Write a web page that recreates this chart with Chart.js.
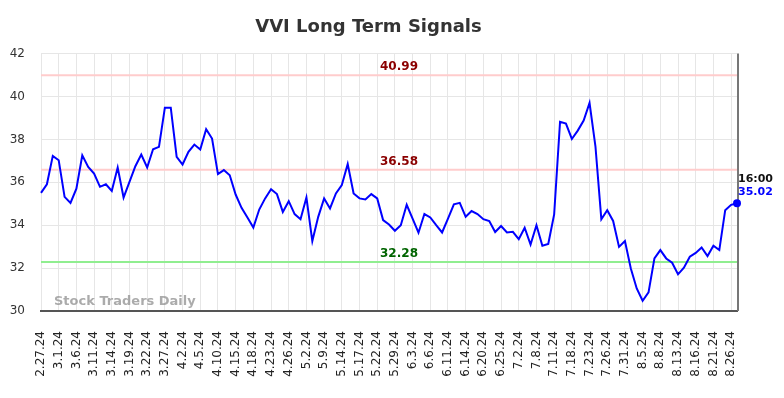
<!DOCTYPE html>
<html>
<head>
<meta charset="utf-8">
<script src="https://cdn.jsdelivr.net/npm/chart.js@4"></script>
<style>
  html, body { margin: 0; padding: 0; background: #fff; }
  #wrap { width: 784px; height: 398px; }
</style>
</head>
<body>
<div id="wrap"><canvas id="vviChart" width="784" height="398"></canvas></div>
<script>
// Handelstage (jeder dritte wird beschriftet)
const dates = [
  '2.27.24','2.28.24','2.29.24','3.1.24','3.4.24','3.5.24','3.6.24','3.7.24','3.8.24',
  '3.11.24','3.12.24','3.13.24','3.14.24','3.15.24','3.18.24','3.19.24','3.20.24','3.21.24',
  '3.22.24','3.25.24','3.26.24','3.27.24','3.28.24','4.1.24','4.2.24','4.3.24','4.4.24',
  '4.5.24','4.8.24','4.9.24','4.10.24','4.11.24','4.12.24','4.15.24','4.16.24','4.17.24',
  '4.18.24','4.19.24','4.22.24','4.23.24','4.24.24','4.25.24','4.26.24','4.29.24','4.30.24',
  '5.2.24','5.3.24','5.6.24','5.9.24','5.10.24','5.13.24','5.14.24','5.15.24','5.16.24',
  '5.17.24','5.20.24','5.21.24','5.22.24','5.23.24','5.24.24','5.29.24','5.30.24','5.31.24',
  '6.3.24','6.4.24','6.5.24','6.6.24','6.7.24','6.10.24','6.11.24','6.12.24','6.13.24',
  '6.14.24','6.17.24','6.18.24','6.20.24','6.21.24','6.24.24','6.25.24','6.26.24','6.28.24',
  '7.2.24','7.3.24','7.5.24','7.8.24','7.9.24','7.10.24','7.11.24','7.12.24','7.16.24',
  '7.18.24','7.19.24','7.22.24','7.23.24','7.24.24','7.25.24','7.26.24','7.29.24','7.30.24',
  '7.31.24','8.1.24','8.2.24','8.5.24','8.6.24','8.7.24','8.8.24','8.9.24','8.12.24',
  '8.13.24','8.14.24','8.15.24','8.16.24','8.19.24','8.20.24','8.21.24','8.22.24','8.23.24',
  '8.26.24','8.27.24'
];

// Schlusskurse
const prices = [
  35.51, 35.91, 37.23, 37.03, 35.32, 35.04, 35.70, 37.26, 36.72,
  36.41, 35.79, 35.91, 35.60, 36.69, 35.29, 36.02, 36.75, 37.29,
  36.69, 37.54, 37.65, 39.48, 39.48, 37.19, 36.83, 37.42, 37.76,
  37.53, 38.48, 38.04, 36.38, 36.57, 36.33, 35.43, 34.81, 34.36,
  33.89, 34.73, 35.25, 35.68, 35.45, 34.62, 35.12, 34.52, 34.28,
  35.29, 33.26, 34.39, 35.25, 34.78, 35.48, 35.87, 36.85, 35.48,
  35.25, 35.20, 35.45, 35.25, 34.24, 34.03, 33.74, 34.00, 34.95,
  34.31, 33.65, 34.52, 34.36, 34.00, 33.66, 34.31, 34.97, 35.04,
  34.39, 34.66, 34.52, 34.28, 34.19, 33.68, 33.96, 33.66, 33.69,
  33.35, 33.88, 33.10, 34.00, 33.04, 33.13, 34.50, 38.82, 38.74,
  38.02, 38.41, 38.88, 39.70, 37.68, 34.28, 34.70, 34.20, 32.99,
  33.26, 31.98, 31.05, 30.48, 30.87, 32.45, 32.84, 32.45, 32.25,
  31.71, 32.02, 32.53, 32.71, 32.96, 32.56, 33.04, 32.84, 34.70,
  34.95, 35.02
];

// Signallinien
const signalValues = [40.99, 36.58, 32.28];
const signalLineColors = ['#ffcccc', '#ffcccc', '#90ee90'];
const signalTextColors = ['#8b0000', '#8b0000', '#006400'];

const yTicks = [30, 32, 34, 36, 38, 40, 42];
const lastTime = '16:00';

// Linien, Beschriftungen, Wasserzeichen
const signalPlugin = {
  id: 'signals',
  beforeDatasetsDraw(chart) {
    const { ctx, chartArea, scales } = chart;
    ctx.save();
    signalValues.forEach((v, i) => {
      const y = scales.y.getPixelForValue(v);
      ctx.strokeStyle = signalLineColors[i];
      ctx.lineWidth = 2;
      ctx.beginPath();
      ctx.moveTo(chartArea.left, y);
      ctx.lineTo(chartArea.right, y);
      ctx.stroke();
    });
    ctx.font = 'bold 13px "DejaVu Sans"';
    ctx.fillStyle = 'rgba(150,150,150,0.8)';
    ctx.textAlign = 'left';
    ctx.textBaseline = 'middle';
    ctx.fillText('Stock Traders Daily', 54, 302);
    ctx.restore();
  },
  afterDatasetsDraw(chart) {
    const { ctx, chartArea, scales } = chart;
    ctx.save();
    ctx.font = 'bold 12px "DejaVu Sans"';
    ctx.textAlign = 'center';
    ctx.textBaseline = 'alphabetic';
    const midX = (chartArea.left + chartArea.right) / 2 + 10;
    signalValues.forEach((v, i) => {
      const y = scales.y.getPixelForValue(v);
      ctx.fillStyle = signalTextColors[i];
      ctx.fillText(v.toFixed(2), midX, y - 5);
    });

    // letzter Punkt
    const lastIdx = prices.length - 1;
    const lx = scales.x.getPixelForValue(lastIdx);
    const ly = scales.y.getPixelForValue(prices[lastIdx]);
    ctx.strokeStyle = '#777';
    ctx.lineWidth = 2;
    ctx.beginPath();
    ctx.moveTo(lx + 1, chartArea.top);
    ctx.lineTo(lx + 1, chartArea.bottom);
    ctx.stroke();
    ctx.fillStyle = 'blue';
    ctx.beginPath();
    ctx.arc(lx, ly, 4, 0, Math.PI * 2);
    ctx.fill();
    ctx.font = 'bold 11px "DejaVu Sans"';
    ctx.textAlign = 'left';
    ctx.textBaseline = 'middle';
    ctx.fillStyle = '#111';
    ctx.fillText(lastTime, lx + 1, ly - 24);
    ctx.fillStyle = 'blue';
    ctx.fillText(prices[lastIdx].toFixed(2), lx + 1, ly - 11);
    ctx.restore();
  }
};

const ctx = document.getElementById('vviChart').getContext('2d');
new Chart(ctx, {
  type: 'line',
  data: {
    labels: dates,
    datasets: [{
      data: prices,
      borderColor: 'blue',
      borderWidth: 2,
      pointRadius: 0,
      tension: 0,
      fill: false
    }]
  },
  options: {
    responsive: false,
    animation: false,
    layout: { padding: { left: 0, right: 47, top: 0, bottom: 0 } },
    plugins: {
      legend: { display: false },
      tooltip: { enabled: false },
      title: {
        display: true,
        text: 'VVI Long Term Signals',
        color: '#333',
        font: { family: 'DejaVu Sans', size: 18, weight: 'bold' },
        padding: { top: 17, bottom: 15 }
      }
    },
    scales: {
      x: {
        offset: false,
        afterFit: s => { s.height = 87; },
        grid: {
          drawTicks: false,
          color: c => (c.index % 3 === 0 ? '#e6e6e6' : 'transparent')
        },
        border: { color: '#555', width: 2 },
        ticks: {
          autoSkip: false,
          maxRotation: 90,
          minRotation: 90,
          padding: 20,
          color: '#222',
          font: { family: 'DejaVu Sans', size: 12 },
          callback: (val, i) => (i % 3 === 0 ? dates[i] : '')
        }
      },
      y: {
        min: 30,
        max: 42,
        afterFit: s => { s.width = 41; },
        afterBuildTicks: s => { s.ticks = yTicks.map(v => ({ value: v })); },
        grid: { drawTicks: false, color: '#e6e6e6' },
        border: { display: false },
        ticks: {
          padding: 16,
          color: '#333',
          font: { family: 'DejaVu Sans', size: 12 }
        }
      }
    }
  },
  plugins: [signalPlugin]
});
</script>
</body>
</html>
